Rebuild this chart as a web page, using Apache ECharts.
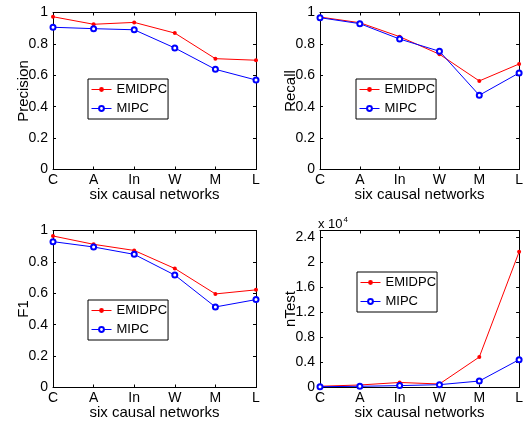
<!DOCTYPE html>
<html>
<head>
<meta charset="utf-8">
<script src="https://cdn.jsdelivr.net/npm/echarts@6/dist/echarts.min.js"></script>
<style>html,body{margin:0;padding:0;background:#fff}#c{width:526px;height:422px}</style>
</head>
<body>
<div id="c"></div>
<script>
const categories = ['C', 'A', 'In', 'W', 'M', 'L'];
const seriesNames = ['EMIDPC', 'MIPC'];
const precisionEMIDPC = [0.973, 0.925, 0.937, 0.869, 0.706, 0.696];
const precisionMIPC = [0.906, 0.897, 0.890, 0.774, 0.638, 0.570];
const recallEMIDPC = [0.971, 0.935, 0.846, 0.734, 0.564, 0.672];
const recallMIPC = [0.967, 0.929, 0.831, 0.753, 0.473, 0.615];
const f1EMIDPC = [0.965, 0.912, 0.873, 0.758, 0.596, 0.622];
const f1MIPC = [0.929, 0.895, 0.848, 0.716, 0.513, 0.560];
const nTestEMIDPC = [200, 400, 800, 560, 4850, 21600];
const nTestMIPC = [130, 190, 300, 450, 1030, 4430];
const xAxisTitle = 'six causal networks';
const yAxisTitles = ['Precision', 'Recall', 'F1', 'nTest'];

const FONT = "'Liberation Sans', Arial, Helvetica, sans-serif";
const grids = [
  {left: 53, top: 12.5, width: 203, height: 157},
  {left: 320, top: 12.5, width: 202, height: 157},
  {left: 53, top: 230.5, width: 203, height: 157},
  {left: 320, top: 230.5, width: 202, height: 157}
];
const legendPos = [
  {left: 88, top: 79},
  {left: 356, top: 79},
  {left: 88, top: 300},
  {left: 357, top: 272}
];
const panels = [
  {name: yAxisTitles[0], a: precisionEMIDPC, b: precisionMIPC, min: 0, max: 1, interval: 0.2},
  {name: yAxisTitles[1], a: recallEMIDPC, b: recallMIPC, min: 0, max: 1, interval: 0.2},
  {name: yAxisTitles[2], a: f1EMIDPC, b: f1MIPC, min: 0, max: 1, interval: 0.2},
  {name: yAxisTitles[3], a: nTestEMIDPC, b: nTestMIPC, min: 0, max: 25000, interval: 4000, scale: 10000}
];

const xAxes = [], yAxes = [], series = [], legends = [];
panels.forEach((p, i) => {
  xAxes.push({
    gridIndex: i, type: 'category', data: categories, boundaryGap: false,
    name: xAxisTitle, nameLocation: 'middle', nameGap: 18, nameMoveOverlap: false,
    nameTextStyle: {fontFamily: FONT, fontSize: 15, color: '#000'},
    axisLine: {onZero: false, lineStyle: {color: '#000', width: 1}},
    axisTick: {inside: true, length: 3, alignWithLabel: true, lineStyle: {color: '#000'}},
    axisLabel: {fontFamily: FONT, fontSize: 14, color: '#000', margin: 4, interval: 0},
    splitLine: {show: false}
  });
  xAxes.push({
    gridIndex: i, type: 'category', data: categories, boundaryGap: false, position: 'top',
    axisLine: {onZero: false, lineStyle: {color: '#000', width: 1}},
    axisTick: {inside: true, length: 3, alignWithLabel: true, lineStyle: {color: '#000'}},
    axisLabel: {show: false}, splitLine: {show: false}
  });
  const fmt = p.scale
    ? (v) => (v >= p.max ? '' : String(+(v / p.scale).toFixed(2)))
    : (v) => String(+v.toFixed(2));
  yAxes.push({
    gridIndex: i, type: 'value', min: p.min, max: p.max, interval: p.interval,
    name: p.name, nameLocation: 'middle', nameGap: 22, nameMoveOverlap: false,
    nameTextStyle: {fontFamily: FONT, fontSize: 15, color: '#000'},
    axisLine: {show: true, onZero: false, lineStyle: {color: '#000', width: 1}},
    axisTick: {show: true, inside: true, length: 3, lineStyle: {color: '#000'}},
    axisLabel: {fontFamily: FONT, fontSize: 14, color: '#000', margin: 5, formatter: fmt},
    splitLine: {show: false}
  });
  yAxes.push({
    gridIndex: i, type: 'value', min: p.min, max: p.max, interval: p.interval, position: 'right',
    axisLine: {show: true, onZero: false, lineStyle: {color: '#000', width: 1}},
    axisTick: {show: true, inside: true, length: 3, lineStyle: {color: '#000'}},
    axisLabel: {show: false}, splitLine: {show: false}
  });
  series.push({
    name: seriesNames[0], type: 'line', xAxisIndex: 2 * i, yAxisIndex: 2 * i, data: p.a,
    symbol: 'circle', symbolSize: 4, color: '#ff0000',
    lineStyle: {color: '#ff0000', width: 1}, itemStyle: {color: '#ff0000'}, animation: false
  });
  series.push({
    name: seriesNames[1], type: 'line', xAxisIndex: 2 * i, yAxisIndex: 2 * i, data: p.b,
    symbol: 'emptyCircle', symbolSize: 5, color: '#0000ff',
    lineStyle: {color: '#0000ff', width: 1}, itemStyle: {color: '#0000ff', borderColor: '#0000ff', borderWidth: 1}, animation: false
  });
  legends.push({
    left: legendPos[i].left, top: legendPos[i].top, orient: 'vertical',
    data: seriesNames, backgroundColor: '#fff',
    borderColor: '#000', borderWidth: 1, padding: [3, 1, 3, 3],
    itemWidth: 20, itemHeight: 6, itemGap: 4,
    lineStyle: {width: 1},
    itemStyle: {borderWidth: 1},
    textStyle: {fontFamily: FONT, fontSize: 13, color: '#000', lineHeight: 15},
    selectedMode: false
  });
});

const chart = echarts.init(document.getElementById('c'), null, {renderer: 'canvas'});
chart.setOption({
  backgroundColor: '#fff',
  animation: false,
  title: {
    text: '{a|x 10}{b|4}', left: 318, top: 216,
    textStyle: {fontWeight: 'normal', rich: {
      a: {fontFamily: FONT, fontSize: 13, fontWeight: 'normal', color: '#000'},
      b: {fontFamily: FONT, fontSize: 8, fontWeight: 'normal', color: '#000', verticalAlign: 'top', padding: [0, 0, 8, 1]}
    }}, padding: 0
  },
  grid: grids,
  xAxis: xAxes,
  yAxis: yAxes,
  legend: legends,
  series: series
});
</script>
</body>
</html>
